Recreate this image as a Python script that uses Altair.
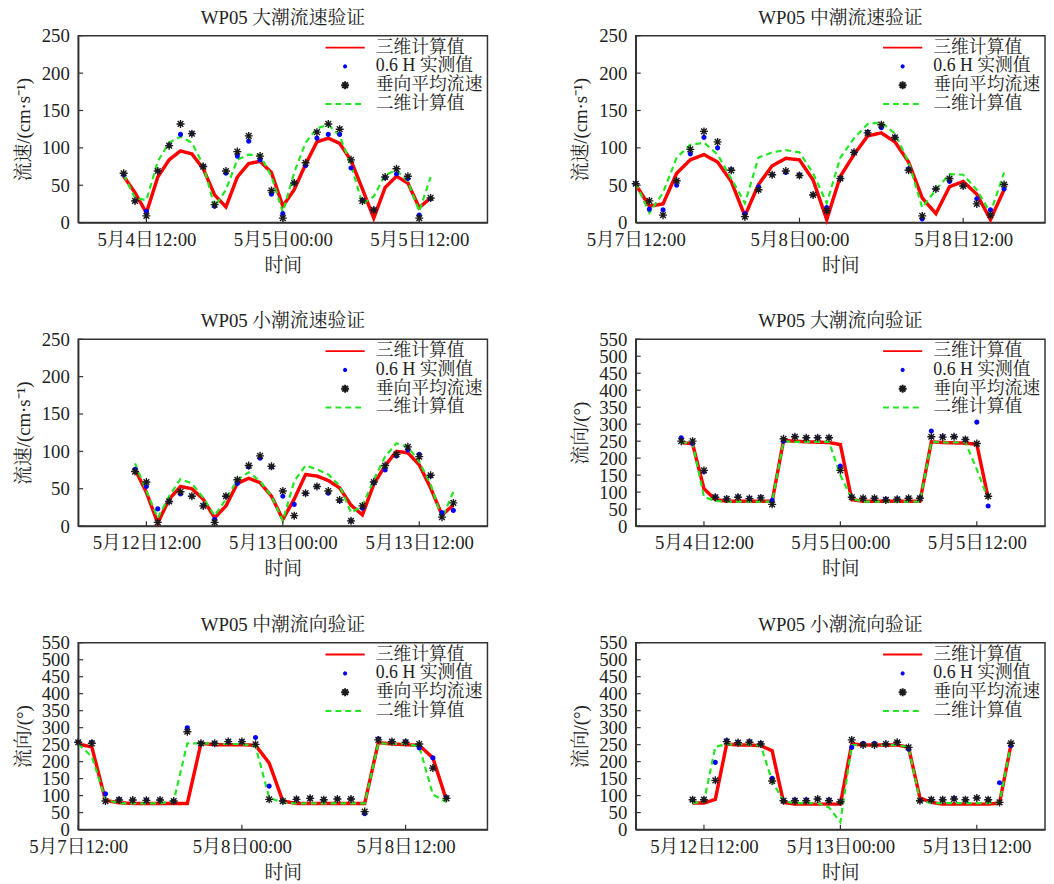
import altair as alt
import pandas as pd

FONT = "Liberation Serif, Noto Serif CJK SC, Noto Sans CJK SC"
TXT = "#222222"
W, H = 414, 189

SERIES = ["三维计算值", "0.6 H 实测值", "垂向平均流速", "二维计算值"]
COLORS = ["#ff0000", "#0000ff", "#1a1a1a", "#22e622"]
LINE_PATH = "M-2.2,0L2.2,0"
DOT_PATH = "M-0.12,0A0.12,0.12,0,1,0,0.12,0A0.12,0.12,0,1,0,-0.12,0Z"
STAR_PATH = "M-0.45,0L0.45,0M0,-0.45L0,0.45M-0.32,-0.32L0.32,0.32M-0.32,0.32L0.32,-0.32"
SHAPES = [LINE_PATH, DOT_PATH, STAR_PATH, LINE_PATH]
DASHES = [[1, 0], [1, 0], [1, 0], [6, 4]]

SPEED_TICKS = [0, 50, 100, 150, 200, 250]
DIR_TICKS = [0, 50, 100, 150, 200, 250, 300, 350, 400, 450, 500, 550]

# ---- 大潮流速 (5月4日10:00 起, 每小时)
red1 = [62, 40, 13, 61, 84, 96, 92, 72, 37, 21, 61, 79, 82, 67, 22, 44, 78, 108, 113, 106, 83, 45, 6, 47, 62, 53, 20, 33]
blue1 = [64, 29, 15, 69, 103, 118, 119, 75, 22, 66, 89, 109, 84, 38, 12, 53, 76, 113, 118, 118, 73, 30, 17, 60, 65, 59, 10, 32]
star1 = [66, 29, 9, 69, 103, 132, 119, 75, 24, 69, 95, 116, 89, 43, 6, 53, 80, 121, 132, 125, 84, 29, 17, 61, 72, 62, 6, 33]
green1 = [64, 33, 30, 82, 107, 115, 107, 77, 21, 44, 84, 91, 90, 62, 14, 67, 107, 126, 131, 116, 77, 25, 35, 64, 70, 55, 15, 61]

# ---- 中潮流速 (5月7日12:00 起)
red2 = [51, 22, 25, 66, 84, 91, 81, 55, 9, 51, 76, 86, 84, 57, 4, 62, 91, 116, 120, 108, 81, 33, 12, 48, 55, 38, 4, 44]
blue2 = [52, 18, 17, 50, 92, 114, 100, 71, 12, 48, 64, 67, 64, 37, 20, 59, 94, 121, 127, 114, 72, 5, 45, 55, 49, 32, 17, 45]
star2 = [52, 29, 10, 56, 98, 122, 108, 70, 8, 44, 64, 69, 63, 37, 16, 59, 94, 120, 131, 114, 70, 9, 45, 59, 49, 25, 10, 51]
green2 = [53, 13, 40, 87, 104, 107, 91, 59, 26, 87, 94, 97, 94, 66, 26, 87, 113, 132, 134, 119, 81, 20, 44, 65, 64, 44, 13, 67]

# ---- 小潮流速 (5月12日11:00 起)
red3 = [76, 45, 4, 36, 53, 50, 36, 11, 27, 57, 64, 58, 40, 9, 36, 69, 67, 61, 51, 28, 15, 56, 81, 100, 98, 82, 51, 15, 28]
blue3 = [76, 53, 23, 33, 43, 40, 27, 9, 40, 57, 79, 91, 79, 40, 29, 44, 53, 44, 34, 7, 24, 58, 75, 94, 102, 96, 67, 18, 21]
star3 = [73, 59, 5, 33, 46, 40, 27, 5, 40, 62, 81, 94, 80, 47, 14, 44, 53, 47, 35, 7, 27, 59, 81, 96, 106, 93, 68, 12, 31]
green3 = [84, 47, 11, 40, 63, 57, 38, 14, 36, 62, 72, 60, 40, 7, 60, 81, 76, 69, 54, 18, 27, 62, 93, 111, 106, 86, 56, 10, 46]

# ---- 大潮流向 (5月4日10:00 起)
red4 = [246, 242, 110, 78, 73, 73, 73, 73, 73, 252, 250, 248, 247, 246, 240, 78, 73, 73, 73, 73, 73, 73, 248, 246, 245, 244, 241, 83]
blue4 = [260, 244, 160, 86, 80, 86, 81, 84, 76, 250, 263, 260, 260, 260, 177, 86, 82, 82, 79, 80, 82, 83, 280, 263, 263, 255, 306, 59]
star4 = [250, 250, 164, 85, 80, 85, 81, 83, 64, 257, 263, 260, 260, 260, 164, 85, 82, 82, 77, 79, 82, 82, 263, 262, 263, 255, 243, 88]
green4 = [246, 244, 86, 74, 72, 72, 72, 72, 72, 250, 248, 248, 248, 248, 150, 80, 72, 72, 72, 72, 72, 72, 248, 246, 246, 246, 167, 79]

# ---- 中潮流向 (5月7日12:00 起)
red5 = [252, 243, 86, 79, 77, 77, 77, 77, 77, 254, 250, 250, 250, 248, 196, 84, 77, 77, 77, 77, 77, 77, 256, 252, 250, 248, 211, 86]
blue5 = [257, 257, 105, 89, 87, 87, 87, 84, 300, 254, 254, 259, 259, 271, 128, 84, 90, 92, 88, 90, 90, 47, 267, 259, 259, 240, 211, 94]
star5 = [257, 254, 84, 87, 87, 86, 87, 84, 288, 254, 254, 259, 259, 251, 89, 84, 89, 92, 88, 90, 90, 53, 264, 259, 257, 252, 181, 92]
green5 = [252, 215, 89, 77, 77, 77, 77, 84, 254, 254, 252, 252, 252, 245, 94, 79, 77, 77, 77, 77, 77, 77, 254, 252, 252, 245, 103, 81]

# ---- 小潮流向 (5月12日11:00 起)
red6 = [78, 78, 89, 252, 249, 249, 247, 232, 80, 75, 75, 75, 75, 75, 252, 249, 249, 249, 249, 242, 93, 80, 75, 75, 75, 75, 75, 78, 249]
blue6 = [88, 88, 198, 262, 257, 259, 254, 151, 85, 88, 88, 90, 88, 82, 242, 254, 254, 252, 257, 237, 85, 88, 88, 92, 88, 93, 88, 138, 247]
star6 = [88, 88, 145, 259, 256, 257, 252, 143, 85, 85, 85, 90, 85, 82, 264, 249, 249, 252, 257, 242, 85, 88, 88, 90, 88, 93, 88, 80, 254]
green6 = [78, 82, 244, 251, 251, 251, 247, 143, 83, 78, 78, 78, 65, 22, 249, 249, 249, 249, 249, 242, 85, 78, 78, 78, 78, 78, 78, 80, 249]


def dt(m, d, h):
    return alt.DateTime(year=2020, month=m, date=d, hours=h)


def panel(title, start, red, blue, star, green, dom, ticks, yticks, ytitle):
    times = [t.strftime("%Y-%m-%dT%H:%M:%S") for t in pd.date_range(start, periods=len(red), freq="h")]
    rows = []
    for name, vals in zip(SERIES, [red, blue, star, green]):
        for t, v in zip(times, vals):
            rows.append({"t": t, "v": v, "s": name})
    df = pd.DataFrame(rows)

    xaxis = alt.Axis(values=[dt(*k) for k in ticks], format="%-m月%-d日%H:%M",
                     title="时间", labelFlush=False, labelOverlap=False,
                     labelPadding=8, titlePadding=7)
    yaxis = alt.Axis(values=yticks, title=ytitle, labelOverlap=False,
                     labelFlush=False, labelPadding=9, titlePadding=8)
    xscale = alt.Scale(domain=[dt(*dom[0]), dt(*dom[1])])
    yscale = alt.Scale(domain=[0, yticks[-1]], nice=False)
    x = alt.X("t:T", scale=xscale, axis=xaxis)
    y = alt.Y("v:Q", scale=yscale, axis=yaxis)

    leg = alt.Legend(title=None, orient="none", legendX=W - 154, legendY=2,
                     symbolSize=324, symbolStrokeWidth=2, labelOffset=21,
                     labelFontSize=18, labelFont=FONT, labelColor=TXT,
                     padding=0, rowPadding=-1.5, labelLimit=300)
    stroke = alt.Stroke("s:N", scale=alt.Scale(domain=SERIES, range=COLORS), legend=leg)
    dash = alt.StrokeDash("s:N", scale=alt.Scale(domain=SERIES, range=DASHES), legend=leg)
    shape = alt.Shape("s:N", scale=alt.Scale(domain=SERIES, range=SHAPES), legend=leg)

    base = alt.Chart(df)
    red_l = base.transform_filter(alt.datum.s == SERIES[0]).mark_line(
        strokeWidth=3.5).encode(x=x, y=y, stroke=stroke, strokeDash=dash)
    green_l = base.transform_filter(alt.datum.s == SERIES[3]).mark_line(
        strokeWidth=2.2).encode(x=x, y=y, stroke=stroke, strokeDash=dash)
    blue_p = base.transform_filter(alt.datum.s == SERIES[1]).mark_point(
        size=324, strokeWidth=3, fill="#0000ff", opacity=1).encode(x=x, y=y, stroke=stroke, shape=shape)
    star_p = base.transform_filter(alt.datum.s == SERIES[2]).mark_point(
        size=324, strokeWidth=1.4, opacity=1).encode(x=x, y=y, stroke=stroke, shape=shape)

    ytick_df = pd.DataFrame({"v": yticks})
    xtick_df = pd.DataFrame({"t": [pd.Timestamp(2020, k[0], k[1], k[2]).strftime("%Y-%m-%dT%H:%M:%S") for k in ticks]})
    yt = alt.Chart(ytick_df).mark_rule(color="#333333", strokeWidth=1.2).encode(
        y=alt.Y("v:Q", scale=yscale, axis=yaxis), x=alt.value(0), x2=alt.value(5))
    xt = alt.Chart(xtick_df).mark_rule(color="#333333", strokeWidth=1.2).encode(
        x=alt.X("t:T", scale=xscale, axis=xaxis), y=alt.value(H - 5), y2=alt.value(H))

    return alt.layer(red_l, green_l, blue_p, star_p, yt, xt).properties(
        width=W, height=H,
        title=alt.TitleParams(title, fontSize=19, font=FONT, fontWeight="normal",
                              color=TXT, offset=-1, anchor="middle"))


SP = "流速/(cm·s⁻¹)"
DR = "流向/(°)"
p1 = panel("WP05 大潮流速验证", "2020-05-04 10:00", red1, blue1, star1, green1,
           [(5, 4, 6), (5, 5, 18)], [(5, 4, 12), (5, 5, 0), (5, 5, 12)], SPEED_TICKS, SP)
p2 = panel("WP05 中潮流速验证", "2020-05-07 12:00", red2, blue2, star2, green2,
           [(5, 7, 12), (5, 8, 18)], [(5, 7, 12), (5, 8, 0), (5, 8, 12)], SPEED_TICKS, SP)
p3 = panel("WP05 小潮流速验证", "2020-05-12 11:00", red3, blue3, star3, green3,
           [(5, 12, 6), (5, 13, 18)], [(5, 12, 12), (5, 13, 0), (5, 13, 12)], SPEED_TICKS, SP)
p4 = panel("WP05 大潮流向验证", "2020-05-04 10:00", red4, blue4, star4, green4,
           [(5, 4, 6), (5, 5, 18)], [(5, 4, 12), (5, 5, 0), (5, 5, 12)], DIR_TICKS, DR)
p5 = panel("WP05 中潮流向验证", "2020-05-07 12:00", red5, blue5, star5, green5,
           [(5, 7, 12), (5, 8, 18)], [(5, 7, 12), (5, 8, 0), (5, 8, 12)], DIR_TICKS, DR)
p6 = panel("WP05 小潮流向验证", "2020-05-12 11:00", red6, blue6, star6, green6,
           [(5, 12, 6), (5, 13, 18)], [(5, 12, 12), (5, 13, 0), (5, 13, 12)], DIR_TICKS, DR)

chart = alt.concat(p1, p2, p3, p4, p5, p6, columns=2, bounds="flush",
                   spacing={"row": 118, "column": 150})
chart = chart.resolve_scale(
    x="independent", y="independent", stroke="independent",
    strokeDash="independent", shape="independent"
).resolve_legend(
    stroke="independent", strokeDash="independent", shape="independent"
).resolve_axis(x="independent", y="independent")

chart = chart.properties(
    padding={"left": 5, "top": -5, "right": 0, "bottom": 0}
).configure_view(stroke="#333333", strokeWidth=1.5).configure_axis(
    domainColor="#333333", domainWidth=1.5, ticks=False, tickSize=0, grid=False,
    labelFont=FONT, labelFontSize=19, labelColor=TXT,
    titleFont=FONT, titleFontSize=19, titleFontWeight="normal", titleColor=TXT
)

chart.save("out.html", embed_options={"renderer": "svg", "actions": False})
